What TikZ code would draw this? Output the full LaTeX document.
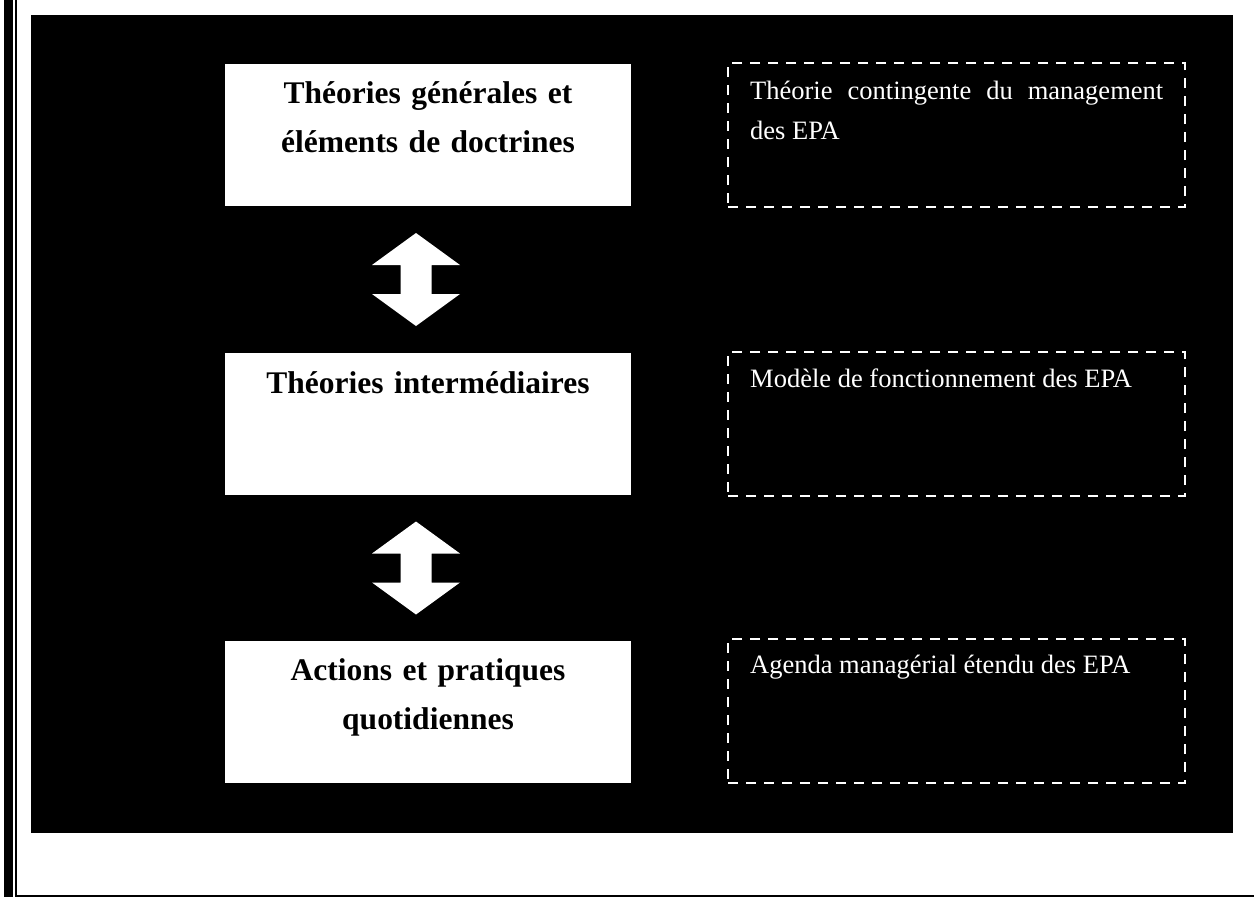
\documentclass[tikz,border=0pt]{standalone}
\usepackage{fontspec}
\setmainfont{Liberation Serif}
\usetikzlibrary{calc}
\tikzset{
  level/.style={draw=none, fill=white, minimum width=406pt, minimum height=142pt, inner sep=0pt},
  leveltext/.style={anchor=base, text width=400pt, align=center, inner sep=0pt,
    font=\fontsize{31.5}{49}\selectfont\bfseries, text=black},
  note/.style={draw=white, line width=2.5pt, dash pattern=on 10pt off 8pt, minimum width=457pt, minimum height=144pt, inner sep=0pt},
  notetext/.style={anchor=base west, text width=413pt, align=justify, inner sep=0pt,
    font=\fontsize{26.5}{40}\selectfont, text=white},
  pics/updown/.style={code={
    \fill[white] (0,-46.5) -- (44,-14.5) -- (15.5,-14.5) -- (15.5,14.5) -- (44,14.5)
      -- (0,46.5) -- (-44,14.5) -- (-15.5,14.5) -- (-15.5,-14.5) -- (-44,-14.5) -- cycle;
  }}
}
\begin{document}
\begin{tikzpicture}[x=1pt, y=-1pt]
\useasboundingbox (0,0) rectangle (1254,897);
\fill[white] (0,0) rectangle (1254,897);
% page frame
\fill[black] (4,0) rectangle (13,897);
\fill[black] (15,0) rectangle (17,897);
\fill[black] (15,895) rectangle (1254,897);
% dark panel
\fill[black] (31,15) rectangle (1233,833);

% levels of theory
\node[level] (b1) at (428,135) {};
\node[level] (b2) at (428,424) {};
\node[level] (b3) at (428,712) {};
\node[leveltext] (t1) at (428,103) {Théories générales et\\éléments de doctrines};
\node[leveltext] (t2) at (428,393) {Théories intermédiaires};
\node[leveltext] (t3) at (428,680) {Actions et pratiques\\quotidiennes};

% two-way arrows between levels
\coordinate (a1) at ($(b1.south)!0.5!(b2.north)+(-12,0)$);
\coordinate (a2) at ($(b2.south)!0.5!(b3.north)+(-12,0)$);
\pic at (a1) {updown};
\pic at (a2) {updown};

% matching notes
\node[note] (n1) at (956.5,135) {};
\node[note] (n2) at (956.5,424) {};
\node[note] (n3) at (956.5,711) {};
\node[notetext] at (750,99) {Théorie contingente du management des EPA};
\node[notetext] at (750,387) {Modèle de fonctionnement des EPA};
\node[notetext] at (750,673) {Agenda managérial étendu des EPA};
\end{tikzpicture}
\end{document}
